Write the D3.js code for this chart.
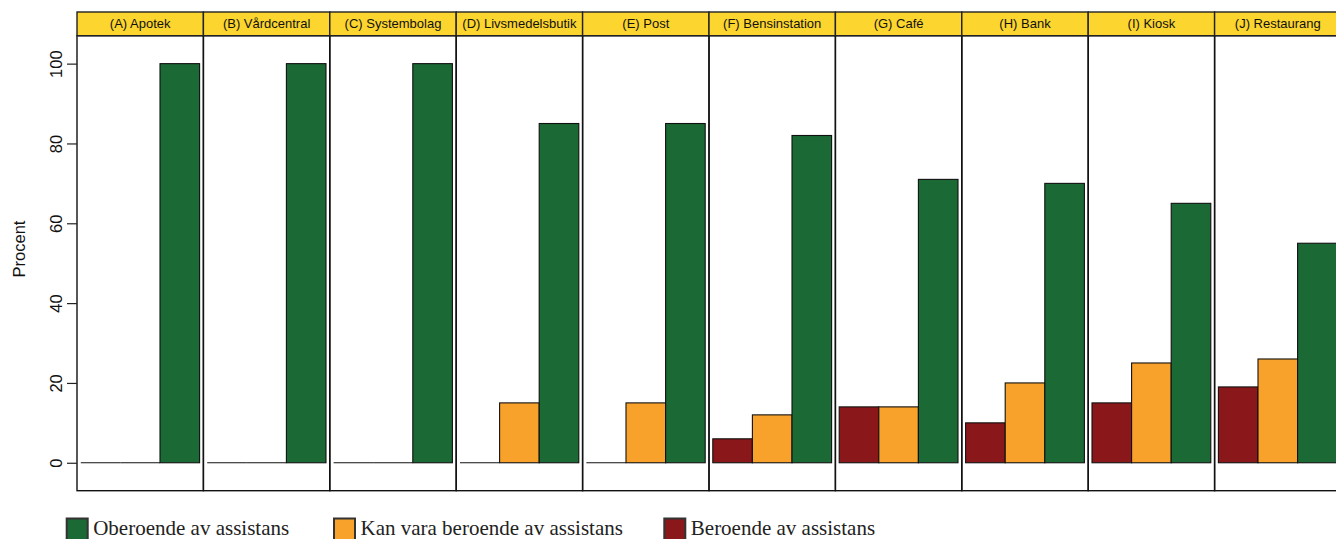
<!DOCTYPE html>
<html>
<head>
<meta charset="utf-8">
<script src="https://cdn.jsdelivr.net/npm/d3@7/dist/d3.min.js"></script>
<style>
html,body{margin:0;padding:0;background:#fff;overflow:hidden;}
svg{display:block;}
</style>
</head>
<body>
<svg id="chart" width="1336" height="539"></svg>
<script>
const panels = ["(A) Apotek","(B) Vårdcentral","(C) Systembolag","(D) Livsmedelsbutik","(E) Post","(F) Bensinstation","(G) Café","(H) Bank","(I) Kiosk","(J) Restaurang"];
const beroende = [0,0,0,0,0,6,14,10,15,19];
const kanVara = [0,0,0,15,15,12,14,20,25,26];
const oberoende = [100,100,100,85,85,82,71,70,65,55];
const seriesKeys = ["beroende","kanVara","oberoende"];
const seriesNames = ["Beroende av assistans","Kan vara beroende av assistans","Oberoende av assistans"];
const seriesColors = ["#8A171A","#F8A22C","#1B6934"];
const yTicks = [0,20,40,60,80,100];
const legendOrder = [2,1,0];

const svg = d3.select("#chart");
const left = 77, panelW = 126.4, stripTop = 12, stripBot = 35.7, bodyBot = 490.7;

const x = d3.scaleBand().domain(panels).range([left, left + panelW*panels.length]);
const y = d3.scaleLinear().domain([-7,107]).range([bodyBot, stripBot]);
const values = {beroende, kanVara, oberoende};

panels.forEach((p,i)=>{
  const px = x(p);
  const g = svg.append("g");
  const xb = d3.scaleBand().domain(seriesKeys).range([px+3.8, px+panelW-3.8]);
  seriesKeys.forEach((k,j)=>{
    const v = values[k][i];
    if (v === 0) {
      g.append("line")
        .attr("x1", xb(k)).attr("x2", xb(k)+xb.bandwidth())
        .attr("y1", y(0)).attr("y2", y(0))
        .attr("stroke","#111").attr("stroke-width",1.1);
    } else {
      g.append("rect")
        .attr("x", xb(k)).attr("width", xb.bandwidth())
        .attr("y", y(Math.max(v,0))).attr("height", Math.abs(y(v)-y(0)))
        .attr("fill", seriesColors[j]).attr("stroke","#111").attr("stroke-width",1.1);
    }
  });
  // panel border
  g.append("rect").attr("x",px).attr("y",stripBot).attr("width",panelW).attr("height",bodyBot-stripBot)
    .attr("fill","none").attr("stroke","#111").attr("stroke-width",1.4);
  // strip
  g.append("rect").attr("x",px).attr("y",stripTop).attr("width",panelW).attr("height",stripBot-stripTop)
    .attr("fill","#FCD52E").attr("stroke","#222").attr("stroke-width",1.4);
  g.append("text").attr("x",px+panelW/2).attr("y",(stripTop+stripBot)/2+4.5)
    .attr("text-anchor","middle").attr("font-family","Liberation Sans, Arial, sans-serif")
    .attr("font-size",13).attr("fill","#111").text(p);
});

// y axis
const yAxis = d3.axisLeft(y).tickValues(yTicks).tickSize(10).tickPadding(0).tickFormat(d3.format("d"));
const ax = svg.append("g").attr("transform",`translate(${left},0)`).call(yAxis);
ax.select(".domain").remove();
ax.selectAll(".tick line").attr("stroke","#222").attr("stroke-width",1.2);
ax.selectAll(".tick text")
  .attr("font-family","Liberation Sans, Arial, sans-serif").attr("font-size",16.5).attr("fill","#111")
  .attr("x",null).attr("dy",null)
  .attr("text-anchor","middle")
  .attr("transform","translate(-15,0) rotate(-90)");

svg.append("text").attr("transform","translate(25,249) rotate(-90)")
  .attr("text-anchor","middle").attr("font-family","Liberation Sans, Arial, sans-serif")
  .attr("font-size",16.5).attr("fill","#111").text("Procent");

// legend
const legX = [66.7, 334, 664.3];
legendOrder.forEach((si,k)=>{
  const lg = svg.append("g").attr("transform",`translate(${legX[k]},518.5)`);
  lg.append("rect").attr("x",0).attr("y",0).attr("width",21).attr("height",22)
    .attr("fill",seriesColors[si]).attr("stroke","#333").attr("stroke-width",2);
  lg.append("text").attr("x",26.5).attr("y",16.5)
    .attr("font-family","Liberation Serif, Times New Roman, serif").attr("font-size",21)
    .attr("fill","#222").text(seriesNames[si]);
});
</script>
</body>
</html>
